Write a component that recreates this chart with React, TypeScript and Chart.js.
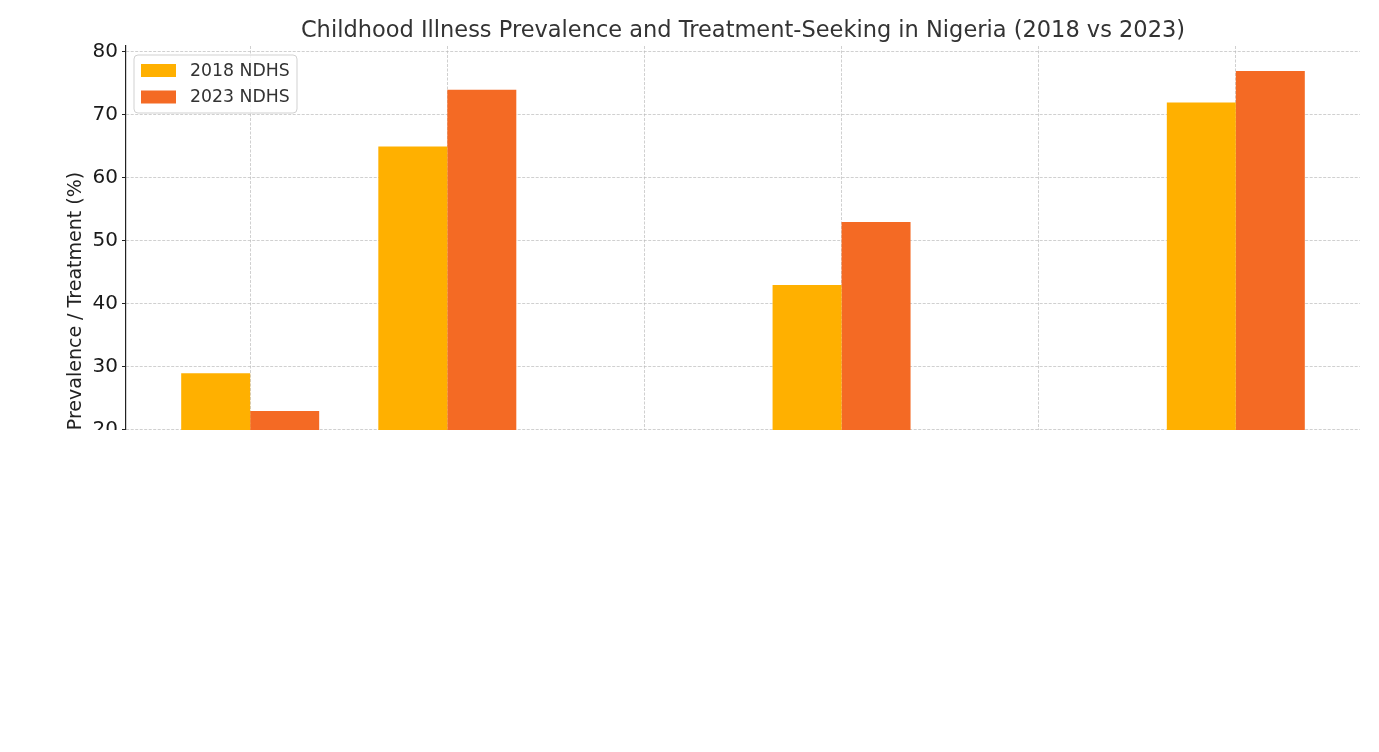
import React, { useEffect, useRef } from "react";
import { Chart, registerables } from "chart.js";

Chart.register(...registerables);

// ---- data ----
const categories: string[] = [
  "Fever prevalence",
  "Treatment sought for fever",
  "ARI symptoms",
  "Treatment sought for ARI",
  "Diarrhoea prevalence",
  "Treatment sought for diarrhoea",
];
const values2018: (number | null)[] = [29, 65, null, 43, null, 72];
const values2023: (number | null)[] = [23, 74, null, 53, null, 77];
const seriesLabels: string[] = ["2018 NDHS", "2023 NDHS"];
const seriesColors: string[] = ["#FFB000", "#F46A24"];
const yTicks: number[] = [0, 10, 20, 30, 40, 50, 60, 70, 80];
const titleText = "Childhood Illness Prevalence and Treatment-Seeking in Nigeria (2018 vs 2023)";
const yTitleText = "Prevalence / Treatment (%)";

const FONT = "'DejaVu Sans', sans-serif";

const insideLegend = {
  id: "insideLegend",
  afterDraw(chart: any) {
    const ctx = chart.ctx;
    const area = chart.chartArea;
    const x0 = area.left + 8;
    const y0 = area.top + 9;
    const w = 163;
    const h = 58;
    ctx.save();
    ctx.beginPath();
    const r = 4;
    ctx.moveTo(x0 + r, y0);
    ctx.lineTo(x0 + w - r, y0);
    ctx.quadraticCurveTo(x0 + w, y0, x0 + w, y0 + r);
    ctx.lineTo(x0 + w, y0 + h - r);
    ctx.quadraticCurveTo(x0 + w, y0 + h, x0 + w - r, y0 + h);
    ctx.lineTo(x0 + r, y0 + h);
    ctx.quadraticCurveTo(x0, y0 + h, x0, y0 + h - r);
    ctx.lineTo(x0, y0 + r);
    ctx.quadraticCurveTo(x0, y0, x0 + r, y0);
    ctx.closePath();
    ctx.fillStyle = "rgba(255,255,255,0.8)";
    ctx.fill();
    ctx.strokeStyle = "rgba(204,204,204,0.9)";
    ctx.lineWidth = 1;
    ctx.stroke();
    ctx.font = `17.3px ${FONT}`;
    ctx.textBaseline = "middle";
    ctx.textAlign = "left";
    chart.data.datasets.forEach((ds: any, i: number) => {
      const rowY = y0 + 9 + i * 26.5;
      ctx.fillStyle = ds.backgroundColor;
      ctx.fillRect(x0 + 7, rowY, 35, 13);
      ctx.fillStyle = "#333333";
      ctx.fillText(ds.label, x0 + 56, rowY + 7.5);
    });
    ctx.restore();
  },
};

export default function App() {
  const canvasRef = useRef<HTMLCanvasElement | null>(null);

  useEffect(() => {
    if (!canvasRef.current) return;
    const toPoints = (vals: (number | null)[]) =>
      vals.map((v, i) => ({ x: i, y: v }));
    const chart = new Chart(canvasRef.current, {
      type: "bar",
      data: {
        datasets: [
          {
            label: seriesLabels[0],
            data: toPoints(values2018) as any,
            backgroundColor: seriesColors[0],
            borderWidth: 0,
          },
          {
            label: seriesLabels[1],
            data: toPoints(values2023) as any,
            backgroundColor: seriesColors[1],
            borderWidth: 0,
          },
        ],
      },
      options: {
        animation: false,
        responsive: false,
        devicePixelRatio: 1,
        layout: { padding: { left: 0, right: 11, top: 0, bottom: 0 } },
        datasets: {
          bar: { categoryPercentage: 0.7, barPercentage: 1.0 },
        },
        plugins: {
          legend: { display: false },
          tooltip: { enabled: false },
          title: {
            display: true,
            text: titleText,
            fullSize: false,
            color: "#333333",
            font: { family: FONT, size: 22.5, weight: "normal", lineHeight: 1.2 },
            padding: { top: 9.5, bottom: 1.5 },
          },
        },
        scales: {
          x: {
            type: "linear",
            min: -0.63,
            max: 5.63,
            offset: false,
            z: 1,
            afterBuildTicks: (scale: any) => {
              scale.ticks = categories.map((_, i) => ({ value: i }));
            },
            afterFit: (scale: any) => {
              scale.height = 60;
            },
            ticks: {
              autoSkip: false,
              maxRotation: 0,
              minRotation: 0,
              font: { family: FONT, size: 12 },
              color: "#222222",
              callback: (v: any) => categories[v] ?? "",
            },
            grid: {
              offset: false,
              color: "rgba(185,185,185,0.85)",
              lineWidth: 0.8,
              drawTicks: false,
            },
            border: { display: false, dash: [3, 1.5] },
          },
          y: {
            min: 0,
            max: 80.95,
            z: 1,
            afterBuildTicks: (scale: any) => {
              scale.ticks = yTicks.map((v) => ({ value: v }));
            },
            afterFit: (scale: any) => {
              scale.width = 118;
            },
            ticks: {
              padding: 4,
              font: { family: FONT, size: 20 },
              color: "#1a1a1a",
            },
            grid: {
              color: "rgba(185,185,185,0.85)",
              lineWidth: 0.8,
              drawTicks: true,
              tickLength: 4,
              tickColor: "#222222",
              tickWidth: 1,
            },
            border: { display: true, color: "#222222", width: 1.2, dash: [3, 1.5] },
            title: {
              display: true,
              text: yTitleText,
              color: "#222222",
              font: { family: FONT, size: 19, lineHeight: 1.2 },
              padding: { top: 56.6, bottom: 0 },
            },
          },
        },
      },
      plugins: [insideLegend],
    } as any);
    return () => chart.destroy();
  }, []);

  return (
    <div style={{ width: 1363, height: 422, overflow: "hidden" }}>
      <canvas
        ref={canvasRef}
        width={1363}
        height={608}
        style={{ display: "block", width: 1363, height: 608 }}
      />
    </div>
  );
}
